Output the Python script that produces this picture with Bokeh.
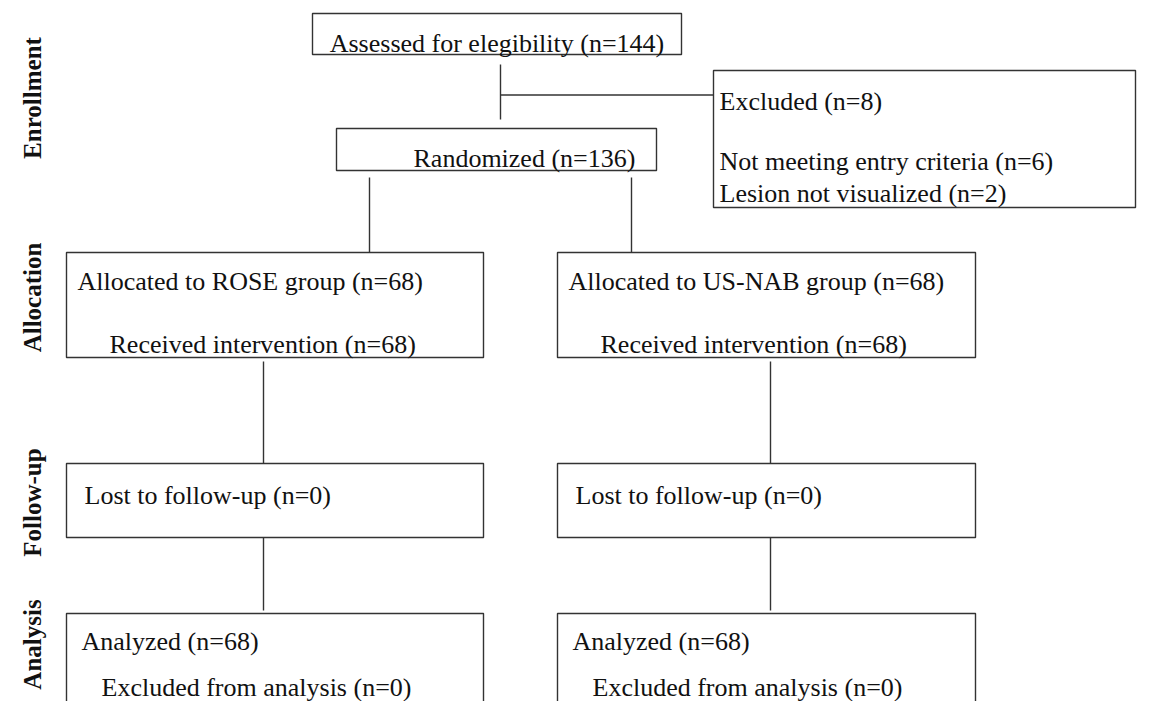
import math
from bokeh.plotting import figure
from bokeh.models import Range1d, ColumnDataSource
from bokeh.core.properties import value
from bokeh.embed import file_html
from bokeh.resources import INLINE

# ---------------- data ----------------
stages = ["Enrollment", "Allocation", "Follow-up", "Analysis"]
assessed_n = 144
excluded_n = 8
excluded_reasons = ["Not meeting entry criteria", "Lesion not visualized"]
excluded_reason_n = [6, 2]
randomized_n = 136
groups = ["ROSE", "US-NAB"]
allocated_n = [68, 68]
received_n = [68, 68]
lost_n = [0, 0]
analyzed_n = [68, 68]
excluded_analysis_n = [0, 0]

# ---------------- layout (pixels, y grows downward) ----------------
W, H = 1137, 701
FONT = "Liberation Serif"
LINE_COLOR = "#333333"
TEXT_COLOR = "#111111"

p = figure(width=W, height=H, output_backend="svg", toolbar_location=None,
           x_range=Range1d(0, W), y_range=Range1d(H, 0),
           min_border=0, outline_line_color=None, background_fill_color="white",
           border_fill_color="white")
p.axis.visible = False
p.grid.visible = False

# boxes: left, right, top, bottom
col_left = [66, 557]
col_right = [483, 975]
rows = {"alloc": (252, 357), "follow": (463, 537), "analysis": (613, 780)}

bl, br, bt, bb = [], [], [], []
def box(l, r, t, b):
    bl.append(l); br.append(r); bt.append(t); bb.append(b)

box(312, 681, 13, 54)      # assessed
box(713, 1135, 70, 207)    # excluded
box(336, 656, 128, 170)    # randomized
for i in range(len(groups)):
    for key in ("alloc", "follow", "analysis"):
        t, b = rows[key]
        box(col_left[i], col_right[i], t, b)

p.quad(left=bl, right=br, top=bt, bottom=bb, fill_color=None,
       line_color=LINE_COLOR, line_width=1.4)

# connectors
sx0, sy0, sx1, sy1 = [], [], [], []
def seg(x0, y0, x1, y1):
    sx0.append(x0); sy0.append(y0); sx1.append(x1); sy1.append(y1)

seg(500, 64, 500, 119)
seg(500, 94.5, 713, 94.5)
seg(369, 177, 369, 252)
seg(631, 177, 631, 252)
centers = [263, 770]
for c in centers:
    seg(c, 361, c, 463)
    seg(c, 537, c, 610)
p.segment(x0=sx0, y0=sy0, x1=sx1, y1=sy1, line_color=LINE_COLOR, line_width=1.4)

# box texts
tx, ty, tt, ta = [], [], [], []
def txt(x, y, s, align="left"):
    tx.append(x); ty.append(y); tt.append(s); ta.append(align)

txt(496.5, 43, f"Assessed for elegibility (n={assessed_n})", "center")
txt(719, 101, f"Excluded (n={excluded_n})")
txt(719, 161, f"{excluded_reasons[0]} (n={excluded_reason_n[0]})")
txt(719, 193, f"{excluded_reasons[1]} (n={excluded_reason_n[1]})")
txt(413, 158, f"Randomized (n={randomized_n})")
for i, g in enumerate(groups):
    off = col_left[i] - col_left[0]
    txt(77 + off, 281, f"Allocated to {g} group (n={allocated_n[i]})")
    txt(109 + off, 344, f"Received intervention (n={received_n[i]})")
    txt(84 + off, 495, f"Lost to follow-up (n={lost_n[i]})")
    txt(81 + off, 641, f"Analyzed (n={analyzed_n[i]})")
    txt(101 + off, 687, f"Excluded from analysis (n={excluded_analysis_n[i]})")

src = ColumnDataSource(dict(x=tx, y=ty, text=tt, align=ta))
p.text(x="x", y="y", text="text", source=src, text_align="align",
       text_baseline="alphabetic", text_font=value(FONT),
       text_font_size="26px", text_color=TEXT_COLOR)

# stage labels (rotated, bold)
stage_y = [97.5, 297, 502, 644]
p.text(x=[32] * len(stages), y=stage_y, text=stages, angle=math.pi / 2,
       text_align="center", text_baseline="alphabetic",
       text_font=value(FONT), text_font_style="bold",
       text_font_size="25px", text_color=TEXT_COLOR)

open("out.html", "w").write(file_html(p, INLINE))
